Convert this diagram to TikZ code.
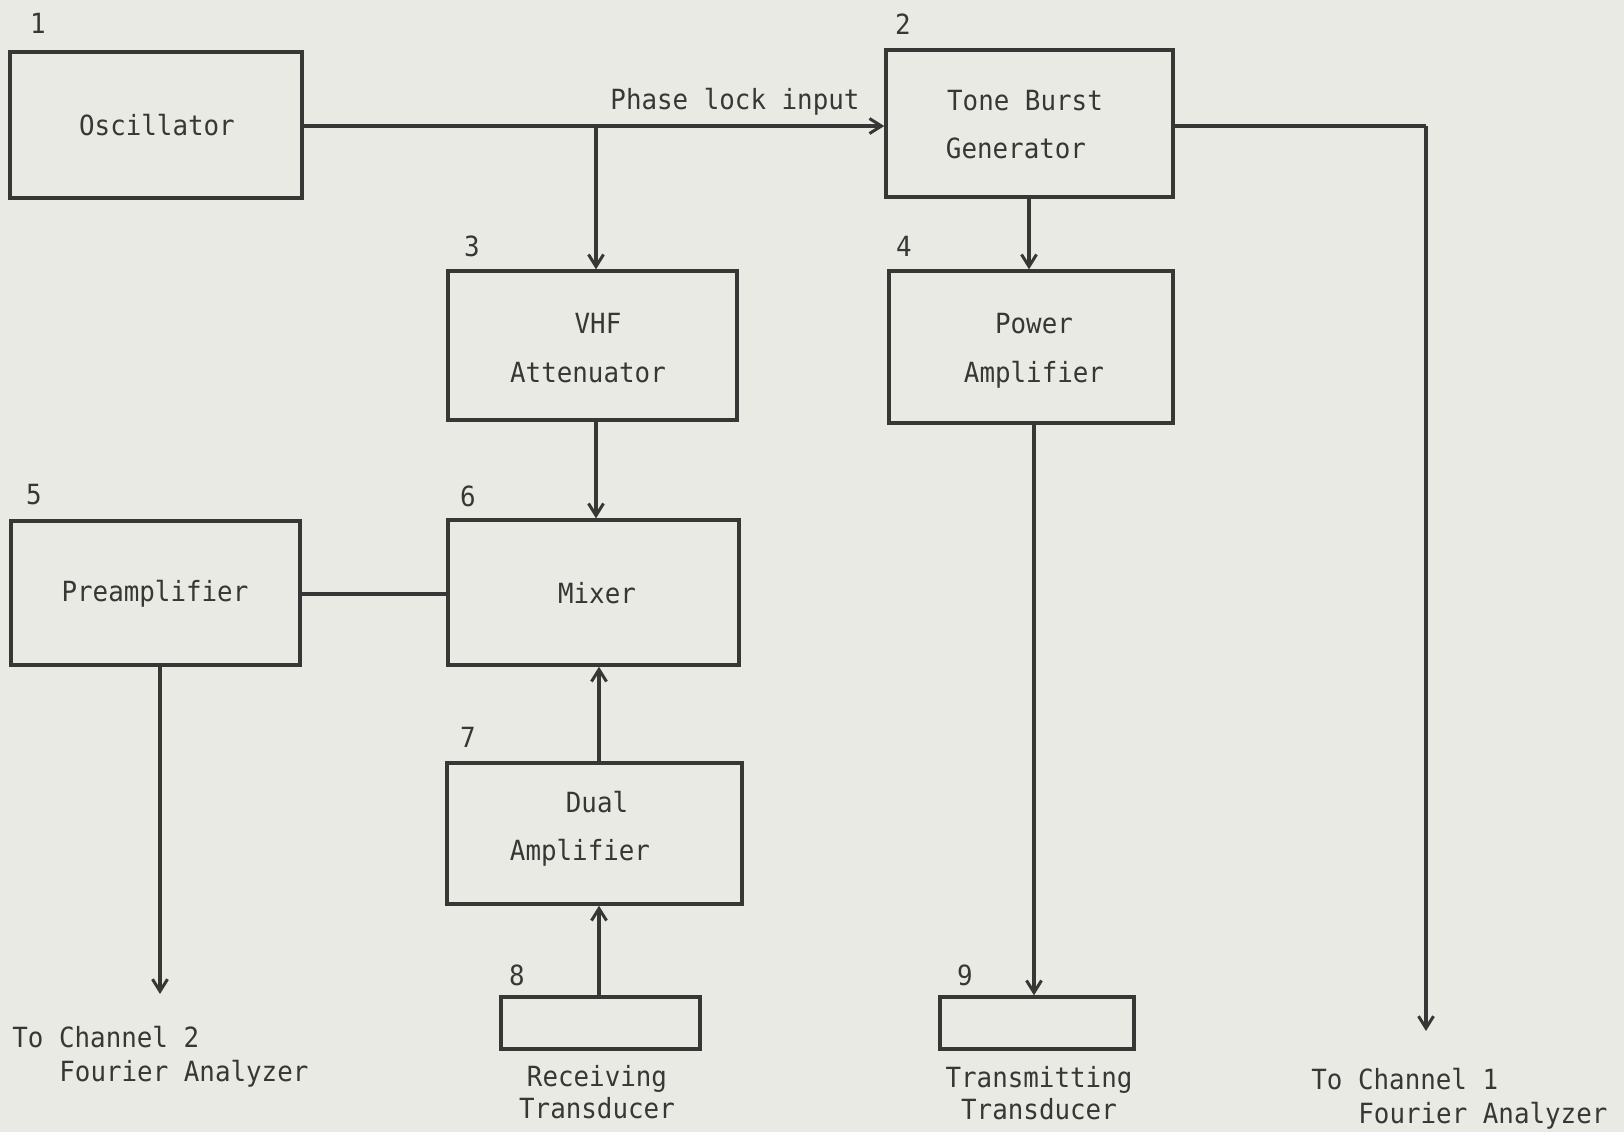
\documentclass[tikz,border=0pt]{standalone}
\usepackage{fontspec}
\newfontfamily\tw[FakeStretch=0.93]{DejaVu Sans Mono}
\usetikzlibrary{arrows.meta,fit}
\definecolor{paper}{RGB}{234,234,229}
\definecolor{ink}{RGB}{55,55,53}
\tikzset{
  x=0.5pt,y=-0.5pt,
  txt/.style={font=\tw\fontsize{13.9}{16}\selectfont, text=ink, inner sep=0pt, anchor=base},
  blk/.style={draw=ink, line width=1.7pt, inner sep=0pt},
  wire/.style={draw=ink, line width=1.6pt},
  arr/.style={wire, -{Straight Barb[length=6pt,width=7.5pt,line width=1.5pt]}}
}
\begin{document}
\begin{tikzpicture}
\fill[paper] (0,0) rectangle (1624,1132);
\useasboundingbox (0,0) rectangle (1624,1132);

% boxes
\node[blk, fit={(10,52)(302,198)}] (osc) {};
\node[blk, fit={(886,50)(1173,197)}] (tbg) {};
\node[blk, fit={(448,271)(737,420)}] (vhf) {};
\node[blk, fit={(889,271)(1173,423)}] (pa) {};
\node[blk, fit={(11,521)(300,665)}] (pre) {};
\node[blk, fit={(448,520)(739,665)}] (mix) {};
\node[blk, fit={(447,763)(742,904)}] (dual) {};
\node[blk, fit={(501,997)(700,1049)}] (rx) {};
\node[blk, fit={(940,997)(1134,1049)}] (tx) {};

% box texts
\node[txt] (tosc) at (157,135) {Oscillator};
\node[txt] (ttbg1) at (1025,110) {Tone Burst};
\node[txt] (ttbg2) at (1016,158) {Generator};
\node[txt] (tvhf1) at (598,333) {VHF};
\node[txt] (tvhf2) at (588,382) {Attenuator};
\node[txt] (tpa1) at (1034,333) {Power};
\node[txt] (tpa2) at (1034,382) {Amplifier};
\node[txt] (tpre) at (155,601) {Preamplifier};
\node[txt] (tmix) at (597,603) {Mixer};
\node[txt] (tdual1) at (597,812) {Dual};
\node[txt] (tdual2) at (580,860) {Amplifier};

% numbers
\node[txt] (n1) at (38,33) {1};
\node[txt] (n2) at (903,34) {2};
\node[txt] (n3) at (472,256) {3};
\node[txt] (n4) at (904,256) {4};
\node[txt] (n5) at (34,504) {5};
\node[txt] (n6) at (468,506) {6};
\node[txt] (n7) at (468,747) {7};
\node[txt] (n8) at (517,985) {8};
\node[txt] (n9) at (965,985) {9};

% other texts
\node[txt] (pli) at (735,109) {Phase lock input};
\node[txt] (rxl1) at (597,1086) {Receiving};
\node[txt] (rxl2) at (597,1118) {Transducer};
\node[txt] (txl1) at (1039,1087) {Transmitting};
\node[txt] (txl2) at (1039,1119) {Transducer};
\node[txt, anchor=base west] (c2a) at (12,1047) {To Channel 2};
\node[txt, anchor=base west] (c2b) at (59,1081) {Fourier Analyzer};
\node[txt, anchor=base west] (c1a) at (1311,1089) {To Channel 1};
\node[txt, anchor=base west] (c1b) at (1358,1123) {Fourier Analyzer};

% coordinates
\coordinate (j1) at (596,126);
\coordinate (c1corner) at (1426,126);
\coordinate (c1end) at (1426,1031);
\coordinate (c2end) at (160,994);

% connectors
\draw[arr] (osc.east |- j1) -- (tbg.west |- j1);
\draw[arr] (j1) -- (vhf.north -| j1);
\draw[wire] (tbg.east |- j1) -- (c1corner);
\draw[arr] (c1corner) -- (c1end);
\draw[arr] (vhf.south -| j1) -- (mix.north -| j1);
\draw[arr] (tbg.south -| 1029,0) -- (pa.north -| 1029,0);
\draw[arr] (pa.south -| 1034,0) -- (tx.north -| 1034,0);
\draw[wire] (pre.east |- 0,594) -- (mix.west |- 0,594);
\draw[arr] (pre.south -| c2end) -- (c2end);
\draw[arr] (dual.north -| 599,0) -- (mix.south -| 599,0);
\draw[arr] (rx.north -| 599,0) -- (dual.south -| 599,0);
\end{tikzpicture}
\end{document}
